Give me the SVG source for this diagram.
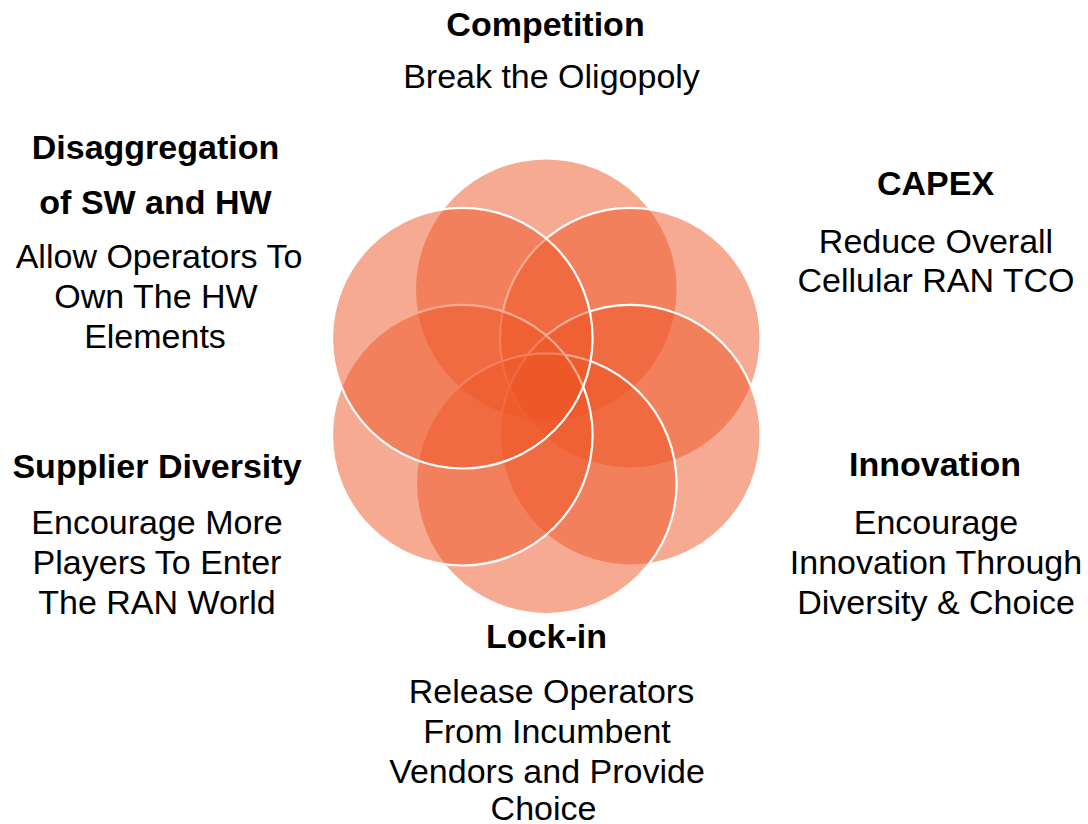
<svg xmlns="http://www.w3.org/2000/svg" width="1088" height="824" viewBox="0 0 1088 824">
<style>
.c{fill:#ED5525;fill-opacity:0.5;stroke:#FFFFFF;stroke-width:2.2}
.c0{fill:#ED5525;fill-opacity:0.5;stroke:none}
.h{font-family:"Liberation Sans",Arial,sans-serif;font-size:34px;font-weight:bold;fill:#000;text-anchor:middle}
.t{font-family:"Liberation Sans",Arial,sans-serif;font-size:34px;fill:#000;text-anchor:middle}
</style>
<rect width="1088" height="824" fill="#FFFFFF"/>
<g id="connectors"></g>
<g id="competition">
<circle class="c0" cx="546.3" cy="289.7" r="130.3"/>
<text class="h" x="545.5" y="36">Competition</text>
<text class="t" x="551.5" y="87.5">Break the Oligopoly</text>
</g>
<g id="capex">
<circle class="c" cx="630.3" cy="338.2" r="130.3"/>
<text class="h" x="935.5" y="195">CAPEX</text>
<text class="t" x="936" y="253">Reduce Overall</text>
<text class="t" x="936" y="291.5">Cellular RAN TCO</text>
</g>
<g id="innovation">
<circle class="c" cx="630.3" cy="435.2" r="130.3"/>
<text class="h" x="935" y="476">Innovation</text>
<text class="t" x="936" y="533.5">Encourage</text>
<text class="t" x="936" y="573.5">Innovation Through</text>
<text class="t" x="936" y="613.5">Diversity &amp; Choice</text>
</g>
<g id="lockin">
<circle class="c" cx="546.3" cy="483.7" r="130.3"/>
<text class="h" x="546.5" y="648">Lock-in</text>
<text class="t" x="551.5" y="703">Release Operators</text>
<text class="t" x="547" y="743">From Incumbent</text>
<text class="t" x="547" y="783">Vendors and Provide</text>
<text class="t" x="543.5" y="820">Choice</text>
</g>
<g id="supplier-diversity">
<circle class="c" cx="462.3" cy="435.2" r="130.3"/>
<text class="h" x="157" y="478">Supplier Diversity</text>
<text class="t" x="157" y="533.5">Encourage More</text>
<text class="t" x="157" y="573.5">Players To Enter</text>
<text class="t" x="157" y="613.5">The RAN World</text>
</g>
<g id="disaggregation">
<circle class="c" cx="462.3" cy="338.2" r="130.3"/>
<text class="h" x="155.5" y="159">Disaggregation</text>
<text class="h" x="155.5" y="213.5">of SW and HW</text>
<text class="t" x="159" y="268">Allow Operators To</text>
<text class="t" x="156" y="308">Own The HW</text>
<text class="t" x="155" y="348">Elements</text>
</g>
</svg>
